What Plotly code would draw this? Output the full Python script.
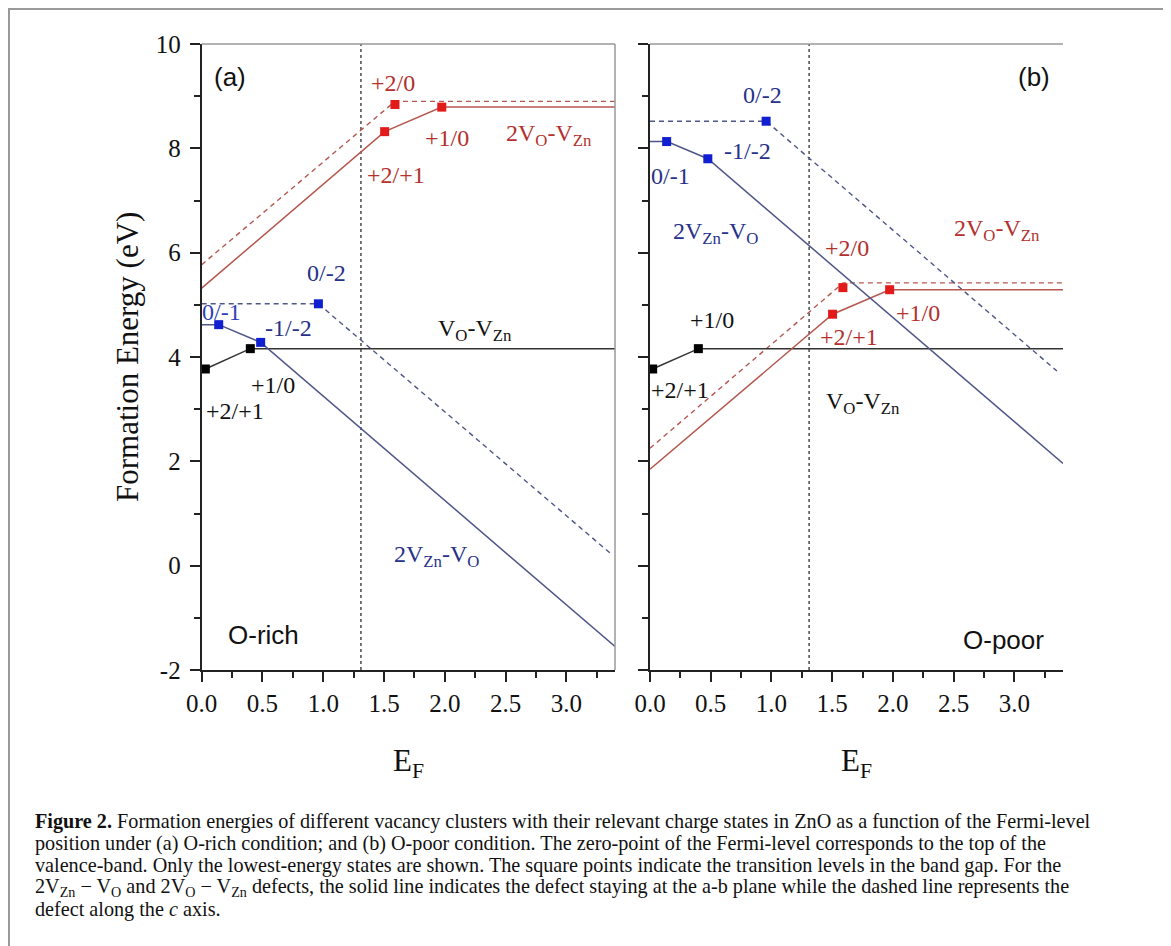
import plotly.graph_objects as go

# page is 1171x946 with an 8px body margin -> figure area
OFF = 8
FW, FH = 1163, 938

# ---------------- data ----------------
band_edge = 1.31  # vertical dotted line (E_F)

# Panel (a) O-rich
a_dvzn_solid_x = [0.0, 0.14, 0.485, 3.4]
a_dvzn_solid_y = [4.62, 4.62, 4.28, -1.55]
a_dvzn_dash_x = [0.0, 0.96, 3.38]
a_dvzn_dash_y = [5.02, 5.02, 0.20]
a_dvo_solid_x = [0.0, 1.505, 1.975, 3.4]
a_dvo_solid_y = [5.32, 8.32, 8.79, 8.79]
a_dvo_dash_x = [0.0, 1.59, 3.4]
a_dvo_dash_y = [5.77, 8.90, 8.90]
a_vovzn_x = [0.03, 0.40, 3.4]
a_vovzn_y = [3.77, 4.16, 4.16]
a_red_pts_x = [1.505, 1.59, 1.975]
a_red_pts_y = [8.32, 8.84, 8.79]
a_blue_pts_x = [0.14, 0.485, 0.96]
a_blue_pts_y = [4.62, 4.28, 5.02]
a_black_pts_x = [0.03, 0.40]
a_black_pts_y = [3.77, 4.16]

# Panel (b) O-poor
b_dvzn_solid_x = [0.0, 0.14, 0.476, 3.4]
b_dvzn_solid_y = [8.13, 8.13, 7.80, 1.96]
b_dvzn_dash_x = [0.0, 0.956, 3.35]
b_dvzn_dash_y = [8.52, 8.52, 3.73]
b_dvo_solid_x = [0.0, 1.503, 1.973, 3.4]
b_dvo_solid_y = [1.85, 4.82, 5.29, 5.29]
b_dvo_dash_x = [0.0, 1.59, 3.4]
b_dvo_dash_y = [2.25, 5.42, 5.42]
b_vovzn_x = [0.02, 0.40, 3.4]
b_vovzn_y = [3.77, 4.16, 4.16]
b_red_pts_x = [1.503, 1.588, 1.973]
b_red_pts_y = [4.82, 5.33, 5.29]
b_blue_pts_x = [0.137, 0.476, 0.956]
b_blue_pts_y = [8.13, 7.80, 8.52]
b_black_pts_x = [0.022, 0.398]
b_black_pts_y = [3.77, 4.16]

x_range = [0, 3.4]
y_range = [-2, 10]
x_tick_vals = [0.0, 0.5, 1.0, 1.5, 2.0, 2.5, 3.0]
x_tick_text = ["0.0", "0.5", "1.0", "1.5", "2.0", "2.5", "3.0"]
y_tick_vals = [-2, 0, 2, 4, 6, 8, 10]
y_tick_text = ["-2", "0", "2", "4", "6", "8", "10"]

RED_TXT = "#b3302e"
BLUE_TXT = "#27318a"
BLK_TXT = "#111111"

# labels: (text, x, y, color)
a_labels = [
    ("+2/0", 1.57, 9.25, RED_TXT),
    ("+2/+1", 1.60, 7.49, RED_TXT),
    ("+1/0", 2.02, 8.20, RED_TXT),
    ("2V<sub>O</sub>-V<sub>Zn</sub>", 2.86, 8.25, RED_TXT),
    ("0/-2", 1.03, 5.61, BLUE_TXT),
    ("0/-1", 0.16, 4.87, "#2f3fb5"),
    ("-1/-2", 0.71, 4.56, BLUE_TXT),
    ("V<sub>O</sub>-V<sub>Zn</sub>", 2.25, 4.52, BLK_TXT),
    ("+1/0", 0.59, 3.47, BLK_TXT),
    ("+2/+1", 0.27, 2.96, BLK_TXT),
    ("2V<sub>Zn</sub>-V<sub>O</sub>", 1.93, 0.18, BLUE_TXT),
]
b_labels = [
    ("0/-2", 0.93, 9.02, BLUE_TXT),
    ("-1/-2", 0.80, 7.94, BLUE_TXT),
    ("0/-1", 0.17, 7.46, BLUE_TXT),
    ("2V<sub>Zn</sub>-V<sub>O</sub>", 0.54, 6.38, BLUE_TXT),
    ("2V<sub>O</sub>-V<sub>Zn</sub>", 2.86, 6.44, RED_TXT),
    ("+2/0", 1.62, 6.09, RED_TXT),
    ("+1/0", 2.21, 4.84, RED_TXT),
    ("+2/+1", 1.64, 4.39, RED_TXT),
    ("+1/0", 0.51, 4.71, BLK_TXT),
    ("+2/+1", 0.25, 3.37, BLK_TXT),
    ("V<sub>O</sub>-V<sub>Zn</sub>", 1.75, 3.12, BLK_TXT),
]
panel_tags = [("(a)", "x", 0.23, 9.37), ("(b)", "x2", 3.16, 9.37)]
cond_tags = [("O-rich", "x", 0.51, -1.32), ("O-poor", "x2", 2.91, -1.42)]

caption_lines = [
    "<b>Figure 2.</b> Formation energies of different vacancy clusters with their relevant charge states in ZnO as a function of the Fermi-level",
    "position under (a) O-rich condition; and (b) O-poor condition. The zero-point of the Fermi-level corresponds to the top of the",
    "valence-band. Only the lowest-energy states are shown. The square points indicate the transition levels in the band gap. For the",
    "2V<sub>Zn</sub> − V<sub>O</sub> and 2V<sub>O</sub> − V<sub>Zn</sub> defects, the solid line indicates the defect staying at the a-b plane while the dashed line represents the",
    "defect along the <i>c</i> axis.",
]

# ---------------- styles ----------------
RED_LINE = "#b5574f"
BLUE_LINE = "#4f5688"
BLACK_LINE = "#333333"
RED_MK = "#e31a1a"
BLUE_MK = "#1020d0"
BLACK_MK = "#000000"
DASH = "5px,4px"

SERIF = "Liberation Serif, Times New Roman, serif"
SANS = "Liberation Sans, Arial, sans-serif"


def px2fx(px):
    return (px - OFF) / FW


def py2fy(py):
    return 1 - (py - OFF) / FH


fig = go.Figure()


def add_panel(xa, ya, dvzn_s, dvzn_d, dvo_s, dvo_d, vov, red, blue, black):
    common = dict(xaxis=xa, yaxis=ya, showlegend=False, hoverinfo="skip")
    fig.add_trace(go.Scatter(x=[band_edge, band_edge], y=y_range, mode="lines",
                             line=dict(color="#555555", width=1.6, dash="3px,3px"), **common))
    fig.add_trace(go.Scatter(x=dvo_d[0], y=dvo_d[1], mode="lines",
                             line=dict(color=RED_LINE, width=1.4, dash=DASH), **common))
    fig.add_trace(go.Scatter(x=dvzn_d[0], y=dvzn_d[1], mode="lines",
                             line=dict(color=BLUE_LINE, width=1.4, dash=DASH), **common))
    fig.add_trace(go.Scatter(x=vov[0], y=vov[1], mode="lines",
                             line=dict(color=BLACK_LINE, width=1.5), **common))
    fig.add_trace(go.Scatter(x=dvo_s[0], y=dvo_s[1], mode="lines",
                             line=dict(color=RED_LINE, width=1.5), **common))
    fig.add_trace(go.Scatter(x=dvzn_s[0], y=dvzn_s[1], mode="lines",
                             line=dict(color=BLUE_LINE, width=1.5), **common))
    for (px_, py_), c in [(red, RED_MK), (blue, BLUE_MK), (black, BLACK_MK)]:
        fig.add_trace(go.Scatter(x=px_, y=py_, mode="markers", cliponaxis=False,
                                 marker=dict(symbol="square", size=9, color=c, line=dict(width=0)),
                                 **common))


add_panel("x", "y",
          (a_dvzn_solid_x, a_dvzn_solid_y), (a_dvzn_dash_x, a_dvzn_dash_y),
          (a_dvo_solid_x, a_dvo_solid_y), (a_dvo_dash_x, a_dvo_dash_y),
          (a_vovzn_x, a_vovzn_y),
          (a_red_pts_x, a_red_pts_y), (a_blue_pts_x, a_blue_pts_y), (a_black_pts_x, a_black_pts_y))
add_panel("x2", "y2",
          (b_dvzn_solid_x, b_dvzn_solid_y), (b_dvzn_dash_x, b_dvzn_dash_y),
          (b_dvo_solid_x, b_dvo_solid_y), (b_dvo_dash_x, b_dvo_dash_y),
          (b_vovzn_x, b_vovzn_y),
          (b_red_pts_x, b_red_pts_y), (b_blue_pts_x, b_blue_pts_y), (b_black_pts_x, b_black_pts_y))

xa_dom = [px2fx(201.7), px2fx(615)]
xb_dom = [px2fx(650), px2fx(1063)]
y_dom = [py2fy(670), py2fy(44)]

xcommon = dict(range=x_range, tickmode="array", tickvals=x_tick_vals, ticktext=x_tick_text,
               ticks="outside", ticklen=10, tickwidth=1.5, tickcolor="#222",
               showline=True, linecolor="#222", linewidth=2, showgrid=False, zeroline=False,
               tickfont=dict(family=SERIF, size=25, color="#111"), automargin=False,
               minor=dict(tickmode="linear", tick0=0, dtick=0.25, ticks="outside", ticklen=6,
                          tickwidth=1.5, tickcolor="#222", showgrid=False),
               fixedrange=True)
ycommon = dict(range=y_range, tickmode="array", tickvals=y_tick_vals, ticktext=y_tick_text,
               ticks="outside", ticklen=10, tickwidth=1.5, tickcolor="#222",
               showline=True, linecolor="#222", linewidth=2, showgrid=False, zeroline=False,
               tickfont=dict(family=SERIF, size=25, color="#111"), automargin=False,
               minor=dict(tickmode="linear", tick0=0, dtick=1, ticks="outside", ticklen=6,
                          tickwidth=1.5, tickcolor="#222", showgrid=False),
               fixedrange=True)

fig.update_layout(
    template="none",
    width=FW, height=FH, margin=dict(l=0, r=0, t=0, b=0, pad=0, autoexpand=False),
    paper_bgcolor="white", plot_bgcolor="white",
    showlegend=False,
    xaxis=dict(domain=xa_dom, anchor="y", **xcommon),
    xaxis2=dict(domain=xb_dom, anchor="y2", **xcommon),
    yaxis=dict(domain=y_dom, anchor="x", ticklabelstandoff=4, **ycommon),
    yaxis2=dict(domain=y_dom, anchor="x2", showticklabels=False, **ycommon),
    yaxis3=dict(domain=y_dom, anchor="x2", overlaying="y2", side="right", range=y_range,
                tickmode="array", tickvals=y_tick_vals, ticks="inside", ticklen=10, tickwidth=1.5,
                tickcolor="#222", showticklabels=False, showline=True, linecolor="#999999",
                linewidth=1.5, showgrid=False, zeroline=False, fixedrange=True, automargin=False,
                minor=dict(tickmode="linear", tick0=0, dtick=1, ticks="inside", ticklen=10,
                           tickwidth=1.5, tickcolor="#222", showgrid=False)),
)

shapes = []
# top and right frame lines (gray)
for xr, yr in [("x domain", "y domain"), ("x2 domain", "y2 domain")]:
    shapes.append(dict(type="line", xref=xr, yref=yr, x0=0, x1=1, y0=1, y1=1,
                       line=dict(color="#999999", width=1.5)))
shapes.append(dict(type="line", xref="x domain", yref="y domain", x0=1, x1=1, y0=0, y1=1,
                   line=dict(color="#999999", width=1.5)))
# outer figure border (bottom edge runs off the page)
shapes.append(dict(type="rect", xref="paper", yref="paper",
                   x0=px2fx(9), x1=px2fx(1164), y0=py2fy(960), y1=py2fy(9),
                   line=dict(color="#9a9a9a", width=2)))
fig.update_layout(shapes=shapes)

ann = []
for lbls, xr, yr in [(a_labels, "x", "y"), (b_labels, "x2", "y2")]:
    for t, x, y, c in lbls:
        ann.append(dict(text=t, x=x, y=y, xref=xr, yref=yr, showarrow=False,
                        xanchor="center", yanchor="middle",
                        font=dict(family=SERIF, size=24, color=c)))
for t, xr, x, y in panel_tags + cond_tags:
    ann.append(dict(text=t, x=x, y=y, xref=xr, yref="y" if xr == "x" else "y2", showarrow=False,
                    xanchor="center", yanchor="middle",
                    font=dict(family=SANS, size=26, color="#111")))
ann.append(dict(text="Formation Energy (eV)", x=px2fx(127), y=py2fy(357), xref="paper", yref="paper",
                xanchor="center", yanchor="middle",
                textangle=-90, showarrow=False, font=dict(family=SERIF, size=31, color="#111")))
for cx in [408, 856]:
    ann.append(dict(text="E<sub>F</sub>", x=px2fx(cx), y=py2fy(763), xref="paper", yref="paper",
                    xanchor="center", yanchor="middle",
                    showarrow=False, font=dict(family=SERIF, size=31, color="#111")))
for i, line in enumerate(caption_lines):
    ann.append(dict(text=line, x=px2fx(33), y=py2fy(821 + 22 * i), xref="paper", yref="paper",
                    xanchor="left", yanchor="middle", align="left", showarrow=False,
                    font=dict(family=SERIF, size=20.2, color="#111")))
fig.update_layout(annotations=ann)

fig.write_html("out.html")
